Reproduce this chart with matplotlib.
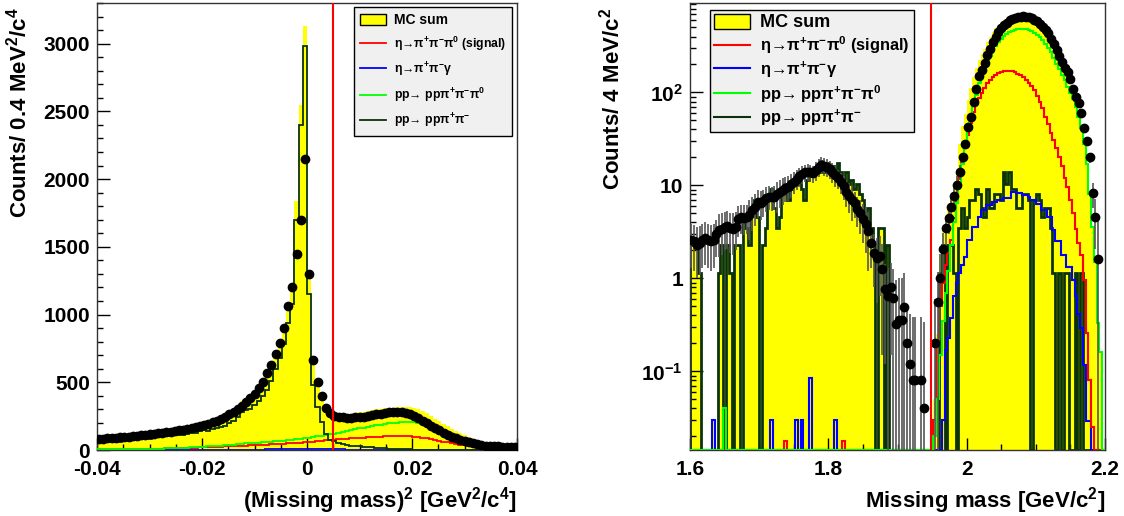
import numpy as np
import matplotlib
matplotlib.use('Agg')
import matplotlib.pyplot as plt
from matplotlib.patches import Patch
from matplotlib.lines import Line2D
from matplotlib.ticker import MultipleLocator, FixedLocator, FixedFormatter, LogLocator, NullFormatter

plt.rcParams['font.family'] = ['Liberation Sans', 'DejaVu Sans']
plt.rcParams['font.weight'] = 'bold'
plt.rcParams['mathtext.fontset'] = 'custom'
plt.rcParams['mathtext.rm'] = 'Liberation Sans'
plt.rcParams['mathtext.bf'] = 'Liberation Sans:bold'
plt.rcParams['mathtext.it'] = 'Liberation Sans:italic'
plt.rcParams['mathtext.default'] = 'regular'

# ---------------- left panel: (missing mass)^2, 100 bins from -0.04 to 0.04
mm2_range = (-0.04, 0.04)
mm2_nbins = 100

mm2_data = [79, 82, 85, 87, 90, 93, 96, 99, 102, 105,
            108, 112, 116, 120, 124, 128, 132, 136, 140, 144,
            148, 156, 165, 172, 178, 185, 195, 205, 217, 230,
            246, 264, 284, 303, 325, 352, 382, 416, 455, 505,
            565, 630, 712, 790, 900, 1060, 1205, 1450, 1700, 2150,
            1300, 665, 505, 395, 310, 270, 250, 244, 241, 239,
            238, 240, 243, 246, 250, 256, 263, 269, 275, 280,
            283, 283, 281, 274, 265, 250, 235, 216, 197, 178,
            160, 144, 128, 112, 98, 86, 75, 66, 58, 50,
            43, 38, 33, 29, 27, 26, 25, 23, 21, 20]

mm2_pp2pi = [58, 64, 56, 70, 66, 62, 74, 68, 80, 76,
             82, 88, 84, 97, 93, 104, 100, 114, 118, 110,
             108, 115, 128, 122, 138, 146, 142, 155, 160, 170,
             180, 196, 215, 245, 280, 292, 305, 335, 362, 400,
             440, 510, 600, 680, 780, 940, 1080, 1700, 2400, 2980,
             1150, 480, 320, 210, 120, 75, 65, 52, 42, 36,
             31, 28, 26, 24, 22, 20, 17, 15, 12, 10,
             8, 7, 6, 5, 4, 3, 3, 2, 2, 2,
             1, 1, 1, 1, 1, 1, 0, 0, 0, 0,
             0, 0, 0, 0, 0, 0, 0, 0, 0, 0]

mm2_pp3pi = [4, 4, 5, 5, 6, 6, 6, 7, 7, 8,
             8, 9, 9, 10, 11, 11, 12, 13, 14, 14,
             15, 17, 19, 21, 22, 24, 26, 28, 30, 33,
             35, 38, 40, 43, 45, 48, 50, 53, 55, 58,
             60, 62, 65, 67, 70, 72, 76, 80, 84, 88,
             92, 96, 101, 106, 110, 115, 121, 127, 133, 139,
             145, 152, 159, 165, 172, 178, 183, 188, 192, 196,
             200, 203, 206, 207, 207, 205, 200, 194, 185, 170,
             155, 142, 130, 118, 106, 95, 85, 75, 65, 56,
             48, 41, 34, 28, 23, 18, 14, 11, 8, 5]

mm2_signal = [4, 4, 5, 5, 6, 6, 6, 7, 7, 8,
              8, 9, 9, 10, 11, 11, 12, 13, 13, 14,
              15, 16, 17, 18, 19, 20, 21, 22, 23, 25,
              26, 27, 29, 30, 32, 33, 34, 36, 37, 39,
              40, 42, 43, 45, 46, 48, 50, 52, 54, 56,
              58, 62, 65, 69, 72, 75, 77, 80, 82, 84,
              86, 88, 90, 91, 93, 94, 96, 98, 100, 102,
              103, 104, 104, 103, 101, 98, 95, 90, 85, 78,
              72, 67, 62, 56, 50, 45, 40, 35, 30, 26,
              22, 19, 16, 13, 11, 8, 6, 4, 3, 2]

mm2_gamma = ([1] * 30 + [2] * 10 + [4, 4, 5, 5, 6, 6, 7, 7, 8, 8]
             + [8, 7, 7, 6, 6, 5, 5, 4, 4, 3] + [3] * 10 + [2] * 10
             + [1] * 10 + [0] * 10)

mm2_cut = 0.005

# ---------------- right panel: missing mass, 150 bins of 4 MeV from 1.6 to 2.2
mm_range = (1.6, 2.2)
mm_nbins = 150

mm_data = [2.6, 2.5, 2.3, 2.4, 2.6, 2.7, 2.6, 2.5, 2.6, 3.0,
           3.3, 3.4, 3.6, 3.7, 3.5, 3.4, 3.6, 4.4, 4.6, 4.5,
           4.6, 4.8, 5.4, 5.9, 6.7, 6.5, 6.8, 7.4, 7.6, 7.5,
           7.6, 8.0, 8.6, 9.0, 9.5, 9.7, 10.3, 10.9, 11.8, 12.6,
           13.2, 13.8, 14.0, 13.8, 13.5, 14.5, 15.8, 16.6, 16.2, 15.8,
           15.0, 14.0, 13.0, 12.0, 10.8, 9.8, 8.6, 7.8, 7.0, 6.5,
           5.6, 5.0, 4.4, 3.9, 3.2, 2.4, 1.9, 1.65, 1.75, 1.25,
           0.77, 0.65, 0.80, 0.61, 0.32, 0.36, 0.36, 0.49, 0.20, 0.12,
           0.081, 0.081, 0, 0.081, 0.040, 0, 0, 0, 0.20, 0.56,
           1.02, 2.06, 3.46, 4.5, 5.9, 7.7, 10.1, 14, 20, 28,
           43, 55, 80, 110, 150, 175, 210, 250, 290, 345,
           398, 445, 490, 530, 560, 595, 615, 630, 645, 653,
           658, 655, 645, 630, 605, 580, 545, 510, 470, 433,
           380, 330, 285, 245, 214, 185, 167, 140, 110, 90,
           77, 60, 42, 30, 20, 8.2, 4.6, 1.6, 0, 0]

mm_data_err = ([1.3] * 10 + [1.6] * 11 + [2.2] * 10 + [2.9] * 14 + [3.4] * 8
               + [2.8] * 6 + [2.0] * 6 + [1.1] * 5 + [0.65] * 8 + [0.3] * 7
               + [0] * 3 + [0.4, 0.6, 0.8, 1.0, 1.2, 1.5, 1.8] + [2.5] * 55)

# pp -> pp pi+ pi- : weighted MC, counts of events times one event weight
mm_pp2pi_counts = [2, 2, 2, 1, 0, 0, 0, 0, 0, 0,
                   1, 2, 0, 2, 1, 0, 2, 2, 0, 4,
                   3, 2, 5, 6, 4, 0, 2, 3, 6, 8,
                   5, 3, 4, 7, 9, 6, 8, 10, 9, 11,
                   8, 6, 10, 11, 12, 13, 12, 16, 12, 15,
                   13, 14, 11, 15, 12, 10, 12, 9, 10, 8,
                   9, 7, 6, 4, 5, 3, 2, 0, 3, 3,
                   0, 2, 0, 0, 0, 0, 0, 0, 0, 0,
                   0, 0, 0, 0, 0, 0, 0, 0, 0, 0,
                   1, 2, 0, 2, 2, 1, 0, 3, 5, 3,
                   4, 6, 6, 8, 7, 5, 4, 8, 5, 5,
                   7, 7, 6, 12, 9, 12, 8, 8, 5, 5,
                   7, 7, 6, 0, 6, 7, 6, 4, 5, 5,
                   3, 1, 0, 1, 0, 1, 1, 0, 0, 1,
                   0, 1, 0, 0, 0, 0, 0, 0, 0, 0]
mm_pp2pi_weight = 1.15

mm_signal = ([0] * 34 + [0.018] + [0] * 20 + [0.018] + [0] * 32
             + [0.03, 0.2, 0.5, 0.9, 1.4, 1.9, 2.6, 4.5, 7.5, 12,
                19, 27, 35, 47, 62, 75, 87, 99, 111, 125,
                136, 146, 155, 162, 167, 170, 171, 171, 169, 165,
                160, 154, 146, 136, 126, 116, 106, 92, 80, 68,
                55, 46, 37, 31, 25, 20, 16, 12, 9.7, 7,
                5, 3.4, 2.4, 1.8, 0.96, 0.26, 0.08, 0.025]
             + [0] * 4)

mm_gamma = ([0] * 8 + [0.03] + [0] * 20 + [0.03] + [0] * 8 + [0.03] + [0]
            + [0.03] + [0] * 2 + [0.085] + [0] * 8 + [0.03] + [0] * 38
            + [0.03, 0.17, 0.23, 0.38, 0.64, 0.9, 1.15, 1.4, 1.7, 2.6,
               2.6, 3.6, 3.6, 4.6, 5.4, 5.4, 6.2, 6.2, 6.7, 6.7,
               7.0, 7.0, 7.3, 7.3, 7.3, 8.6, 8.6, 8.3, 8.3, 7.9,
               7.9, 7.6, 7.0, 7.0, 6.4, 6.4, 5.4, 5.4, 4.6, 4.6,
               3.3, 2.5, 2.5, 1.8, 1.8, 1.34, 1.34, 0.96, 0.64, 0.42,
               0.29, 0.118, 0.029, 0.029]
            + [0] * 5)

mm_pp3pi = ([0] * 12 + [0.04] + [0] * 75
            + [0.02, 0.05, 0.15, 0.35, 0.7, 1.2, 2.3, 4.0, 6.5, 11,
               17, 26, 40, 55, 75, 95, 125, 150, 175, 210,
               245, 290, 320, 345, 375, 405, 430, 448, 460, 470,
               478, 482, 482, 478, 468, 455, 440, 420, 395, 365,
               335, 300, 270, 235, 200, 180, 155, 136, 115, 98,
               85, 70, 55, 42, 28, 17, 8, 3.6, 1.5, 0.33,
               0.16, 0])

mm_cut = 1.948

for arr in (mm_data, mm_data_err, mm_pp2pi_counts, mm_signal, mm_gamma, mm_pp3pi):
    assert len(arr) == mm_nbins, len(arr)

legend_labels = ['MC sum',
                 'η→π$^{\\mathbf{+}}$π$^{\\mathbf{-}}$π$^{\\mathbf{0}}$ (signal)',
                 'η→π$^{\\mathbf{+}}$π$^{\\mathbf{-}}$γ',
                 'pp→ ppπ$^{\\mathbf{+}}$π$^{\\mathbf{-}}$π$^{\\mathbf{0}}$',
                 'pp→ ppπ$^{\\mathbf{+}}$π$^{\\mathbf{-}}$']

c_sum = '#ffff00'
c_sig = '#ff0000'
c_gam = '#0000ff'
c_3pi = '#00ff00'
c_2pi = '#0a330a'


def legend_handles(lw):
    return [Patch(facecolor=c_sum, edgecolor='black', linewidth=1),
            Line2D([], [], color=c_sig, lw=lw),
            Line2D([], [], color=c_gam, lw=lw),
            Line2D([], [], color=c_3pi, lw=lw),
            Line2D([], [], color=c_2pi, lw=lw)]


def style_axes(ax):
    ax.tick_params(which='both', direction='in', top=False, right=False,
                   labelsize=15)
    ax.tick_params(which='major', length=9, width=1)
    ax.tick_params(which='minor', length=4.5, width=1)
    ax.tick_params(axis='x', which='major', pad=7.5)
    ax.tick_params(axis='y', which='major', pad=5)
    for s in ax.spines.values():
        s.set_linewidth(1)
        s.set_color('#333333')
    for lab in ax.get_xticklabels() + ax.get_yticklabels():
        lab.set_fontweight('bold')


def make_legend(ax, anchor, big, small, lw, spacing, pad):
    leg = ax.legend(legend_handles(lw), legend_labels, loc='upper left',
                    bbox_to_anchor=anchor, prop={'size': small, 'weight': 'bold'},
                    frameon=True, fancybox=False, facecolor='#f0f0f0',
                    edgecolor='black', framealpha=1, handlelength=2.2,
                    handleheight=1.0, labelspacing=spacing, borderpad=pad,
                    handletextpad=0.6, borderaxespad=0)
    leg.get_texts()[0].set_fontsize(big)
    leg.get_frame().set_linewidth(1)
    leg.set_zorder(10)
    return leg


fig = plt.figure(figsize=(11.24, 5.16), dpi=100)
ax1 = fig.add_axes([97 / 1124, 1 - 450 / 516, 420 / 1124, 447 / 516])
ax2 = fig.add_axes([690 / 1124, 1 - 450 / 516, 415 / 1124, 447 / 516])

# ---------------- left panel
e1 = np.linspace(mm2_range[0], mm2_range[1], mm2_nbins + 1)
c1 = 0.5 * (e1[:-1] + e1[1:])
sig1 = np.array(mm2_signal, float)
gam1 = np.array(mm2_gamma, float)
p3_1 = np.array(mm2_pp3pi, float)
p2_1 = np.array(mm2_pp2pi, float)
sum1 = sig1 + gam1 + p3_1 + p2_1

ax1.stairs(sum1, e1, fill=True, color=c_sum, baseline=0, zorder=1)
ax1.stairs(gam1, e1, color=c_gam, lw=1.3, baseline=None, zorder=2)
ax1.stairs(sig1, e1, color=c_sig, lw=1.3, baseline=None, zorder=3)
ax1.stairs(p3_1, e1, color=c_3pi, lw=1.3, baseline=None, zorder=4)
ax1.stairs(p2_1, e1, color=c_2pi, lw=1.3, baseline=None, zorder=5)
ax1.plot(c1, mm2_data, 'o', color='black', ms=6, zorder=6)
ax1.axvline(mm2_cut, color=c_sig, lw=1.5, zorder=7)

ax1.set_xlim(*mm2_range)
ax1.set_ylim(0, 3300)
ax1.xaxis.set_major_locator(FixedLocator([-0.04, -0.02, 0, 0.02, 0.04]))
ax1.xaxis.set_major_formatter(FixedFormatter(['-0.04', '-0.02', '0', '0.02', '0.04']))
ax1.xaxis.set_minor_locator(MultipleLocator(0.005))
ax1.yaxis.set_major_locator(MultipleLocator(500))
ax1.yaxis.set_minor_locator(MultipleLocator(100))
style_axes(ax1)
ax1.set_xlabel(r'(Missing mass)$^{\mathbf{2}}$ [GeV$^{\mathbf{2}}$/c$^{\mathbf{4}}$]',
               fontsize=16, fontweight='bold', loc='right')
ax1.xaxis.set_label_coords(1.0, -0.078)
ax1.set_ylabel(r'Counts/ 0.4 MeV$^{\mathbf{2}}$/c$^{\mathbf{4}}$',
               fontsize=16, fontweight='bold', loc='top')
ax1.yaxis.set_label_coords(-0.157, 0.99)

make_legend(ax1, (0.612, 0.99), 10, 8.8, 1.3, 0.62, 0.45)

# ---------------- right panel
ymin2, ymax2 = 0.0143, 917
e2 = np.linspace(mm_range[0], mm_range[1], mm_nbins + 1)
c2 = 0.5 * (e2[:-1] + e2[1:])
sig2 = np.array(mm_signal, float)
gam2 = np.array(mm_gamma, float)
p3_2 = np.array(mm_pp3pi, float)
p2_2 = np.array(mm_pp2pi_counts, float) * mm_pp2pi_weight
sum2 = sig2 + gam2 + p3_2 + p2_2


def floor(v):
    return np.clip(v, ymin2, None)


ax2.set_yscale('log')
ax2.stairs(floor(sum2), e2, fill=True, color=c_sum, baseline=ymin2, zorder=1)
ax2.stairs(floor(p2_2), e2, color=c_2pi, lw=2, baseline=ymin2, zorder=2)
ax2.stairs(floor(gam2), e2, color=c_gam, lw=1.5, baseline=ymin2, zorder=3)
ax2.stairs(floor(sig2), e2, color=c_sig, lw=1.5, baseline=ymin2, zorder=4)
ax2.stairs(floor(p3_2), e2, color=c_3pi, lw=1.5, baseline=ymin2, zorder=5)

d2 = np.array(mm_data, float)
de2 = np.array(mm_data_err, float)
ok = d2 > 0
lo = np.minimum(de2[ok], d2[ok] - ymin2 * 0.999)
ax2.errorbar(c2[ok], d2[ok], yerr=[lo, de2[ok]], fmt='none', ecolor='#555555',
             elinewidth=1.2, capsize=0, zorder=6)
ax2.plot(c2[ok], d2[ok], 'o', color='black', ms=6, zorder=7)
ax2.axvline(mm_cut, color=c_sig, lw=1.5, zorder=8)

ax2.set_xlim(*mm_range)
ax2.set_ylim(ymin2, ymax2)
ax2.xaxis.set_major_locator(FixedLocator([1.6, 1.8, 2.0, 2.2]))
ax2.xaxis.set_major_formatter(FixedFormatter(['1.6', '1.8', '2', '2.2']))
ax2.xaxis.set_minor_locator(MultipleLocator(0.05))
ax2.yaxis.set_major_locator(FixedLocator([0.1, 1, 10, 100]))
ax2.yaxis.set_major_formatter(FixedFormatter([r'$\mathbf{10^{-1}}$', '1', '10',
                                              r'$\mathbf{10^{2}}$']))
ax2.yaxis.set_minor_locator(LogLocator(base=10, subs=np.arange(2, 10), numticks=20))
ax2.yaxis.set_minor_formatter(NullFormatter())
style_axes(ax2)
ax2.set_xlabel(r'Missing mass [GeV/c$^{\mathbf{2}}$]', fontsize=16,
               fontweight='bold', loc='right')
ax2.xaxis.set_label_coords(1.0, -0.078)
ax2.set_ylabel(r'Counts/ 4 MeV/c$^{\mathbf{2}}$', fontsize=16,
               fontweight='bold', loc='top')
ax2.yaxis.set_label_coords(-0.159, 0.99)

make_legend(ax2, (0.048, 0.984), 13, 11.8, 1.5, 0.2, 0.25)

fig.savefig('out.png', dpi=100)
